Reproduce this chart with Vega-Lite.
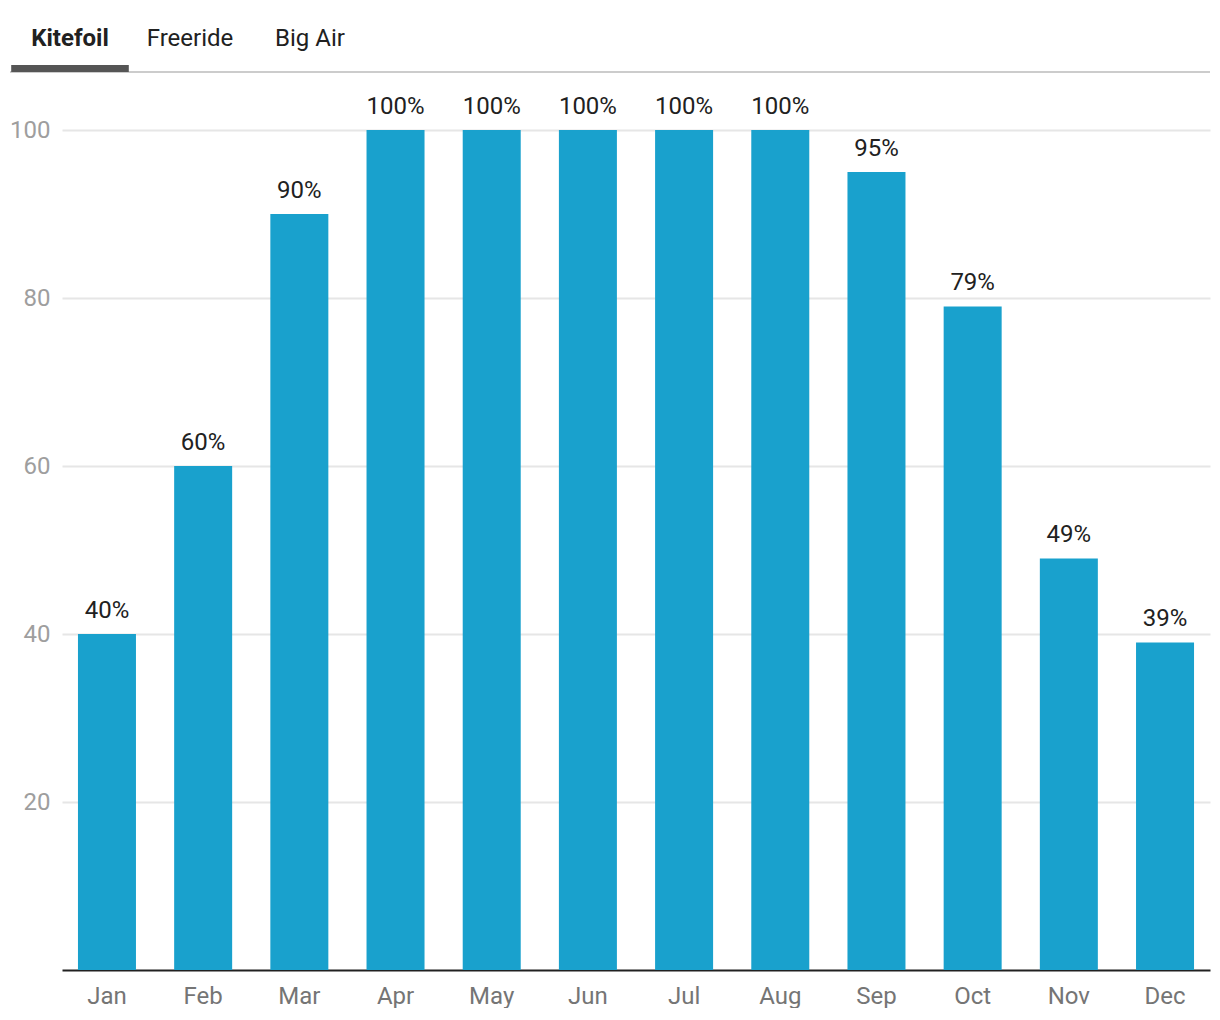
{
  "$schema": "https://vega.github.io/schema/vega-lite/v6.json",
  "padding": {"left": 9, "top": 26, "right": 10, "bottom": 0},
  "columns": 1,
  "align": "none",
  "spacing": 22,
  "config": {
    "font": "Roboto",
    "view": {"stroke": null},
    "axis": {"labelFont": "Roboto"}
  },
  "datasets": {
    "tabs": [
      {"tab": "Kitefoil", "active": true},
      {"tab": "Freeride", "active": false},
      {"tab": "Big Air", "active": false}
    ],
    "months": [
      {"month": "Jan", "value": 40},
      {"month": "Feb", "value": 60},
      {"month": "Mar", "value": 90},
      {"month": "Apr", "value": 100},
      {"month": "May", "value": 100},
      {"month": "Jun", "value": 100},
      {"month": "Jul", "value": 100},
      {"month": "Aug", "value": 100},
      {"month": "Sep", "value": 95},
      {"month": "Oct", "value": 79},
      {"month": "Nov", "value": 49},
      {"month": "Dec", "value": 39}
    ]
  },
  "concat": [
    {
      "width": 1148,
      "height": 7,
      "data": {"name": "tabs"},
      "resolve": {"scale": {"x": "independent"}, "axis": {"x": "independent"}},
      "layer": [
        {
          "transform": [{"filter": "datum.active"}],
          "mark": {"type": "rule", "color": "#cccccc", "strokeWidth": 2},
          "encoding": {
            "x": {"datum": 0, "type": "quantitative", "scale": {"domain": [0, 1], "range": [-52, 1148]}, "axis": null},
            "x2": {"datum": 1},
            "y": {"datum": 0, "type": "quantitative", "scale": {"domain": [0, 1]}, "axis": null}
          }
        },
        {
          "transform": [{"filter": "datum.active"}],
          "mark": {"type": "bar", "color": "#555555", "width": {"band": 0.98}, "align": "left"},
          "encoding": {
            "x": {
              "field": "tab", "type": "nominal", "sort": null,
              "scale": {"domain": ["Kitefoil", "Freeride", "Big Air"], "range": [-52, 308], "paddingInner": 0, "paddingOuter": 0},
              "axis": {
                "orient": "top", "title": null, "domain": false, "ticks": false, "tickSize": 0,
                "labelAngle": 0, "labelFontSize": 24, "labelColor": "#212121",
                "labelBaseline": "alphabetic", "labelPadding": 20,
                "labelFontWeight": {"expr": "datum.value == 'Kitefoil' ? 'bold' : 'normal'"}
              }
            },
            "y": {"datum": 1, "type": "quantitative"},
            "y2": {"datum": 0}
          }
        }
      ]
    },
    {
      "width": 1148,
      "height": 840,
      "data": {"name": "months"},
      "transform": [{"calculate": "datum.value + '%'", "as": "label"}],
      "encoding": {
        "x": {
          "field": "month", "type": "ordinal", "sort": null,
          "scale": {"paddingInner": 0.397, "paddingOuter": 0.166},
          "axis": {
            "title": null, "labelAngle": 0, "ticks": false, "domain": true,
            "domainColor": "#212121", "domainWidth": 2,
            "labelFontSize": 24, "labelColor": "#757575", "labelPadding": 14
          }
        },
        "y": {
          "field": "value", "type": "quantitative",
          "scale": {"domain": [0, 100], "nice": false},
          "axis": {
            "title": null, "values": [20, 40, 60, 80, 100], "domain": false, "ticks": false,
            "gridColor": "#e6e6e6", "gridWidth": 2,
            "labelFontSize": 24, "labelColor": "#9e9e9e", "labelPadding": 12
          }
        }
      },
      "layer": [
        {"mark": {"type": "bar", "color": "#19a1cd"}},
        {
          "mark": {"type": "text", "baseline": "alphabetic", "dy": -16, "fontSize": 24, "color": "#212121", "clip": false},
          "encoding": {"text": {"field": "label"}}
        }
      ]
    }
  ]
}
